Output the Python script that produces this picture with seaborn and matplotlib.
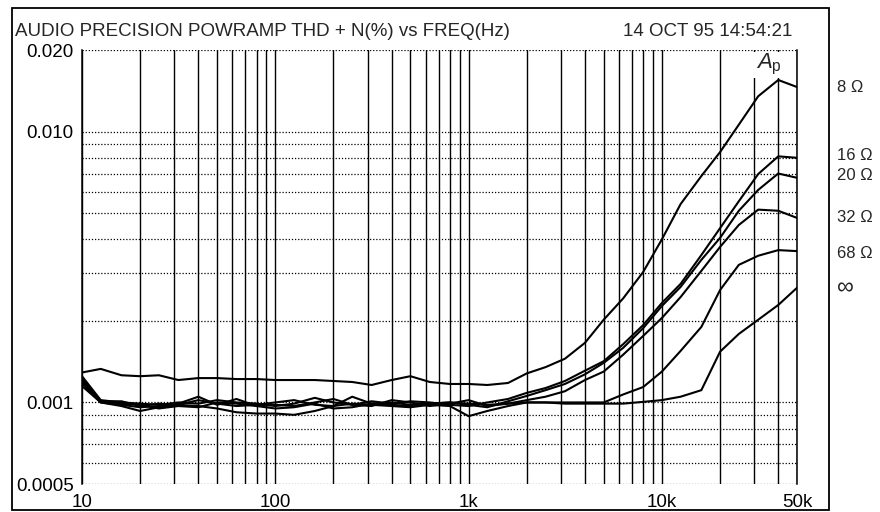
import numpy as np
import pandas as pd
import matplotlib
matplotlib.use("Agg")
import matplotlib.pyplot as plt
from matplotlib.patches import Rectangle
from matplotlib.ticker import FixedLocator, NullFormatter
import seaborn as sns

# ─── Data (THD+N in thousandths of a percent) ─────────────────────────────────
freq = [10, 12.5, 16, 20, 25, 31.5, 40, 50, 63, 80,
        100, 125, 160, 200, 250, 315, 400, 500, 630, 800,
        1000, 1250, 1600, 2000, 2500, 3150, 4000, 5000, 6300, 8000,
        10000, 12500, 16000, 20000, 25000, 31500, 40000, 50000]

thd_8 = [1.29, 1.33, 1.26, 1.25, 1.26, 1.21, 1.23, 1.23, 1.22, 1.22,
         1.21, 1.21, 1.21, 1.20, 1.19, 1.16, 1.21, 1.25, 1.19, 1.17,
         1.17, 1.16, 1.18, 1.28, 1.35, 1.45, 1.66, 2.02, 2.42, 3.03,
         4.0, 5.4, 6.85, 8.4, 10.6, 13.5, 15.5, 14.6]
thd_16 = [1.25, 1.02, 1.00, 0.99, 0.98, 1.00, 0.99, 1.02, 1.00, 0.99,
          0.97, 0.99, 1.04, 1.00, 0.98, 1.01, 0.99, 1.01, 1.00, 0.98,
          0.97, 1.00, 1.03, 1.085, 1.13, 1.20, 1.31, 1.42, 1.64, 1.93,
          2.33, 2.74, 3.5, 4.4, 5.53, 6.97, 8.1, 8.0]
thd_20 = [1.22, 1.01, 1.01, 0.97, 0.99, 0.98, 1.02, 0.99, 0.97, 0.98,
          1.00, 1.02, 0.98, 0.97, 1.05, 0.99, 1.00, 0.98, 0.99, 1.00,
          0.98, 0.96, 1.01, 1.057, 1.11, 1.17, 1.27, 1.40, 1.59, 1.88,
          2.27, 2.67, 3.36, 4.05, 5.1, 6.09, 7.0, 6.75]
thd_32 = [1.18, 1.00, 0.98, 0.96, 0.97, 0.99, 1.05, 0.98, 1.03, 0.97,
          0.98, 0.97, 1.00, 1.03, 0.98, 0.97, 1.02, 1.00, 0.97, 0.99,
          1.02, 0.97, 0.99, 1.02, 1.05, 1.10, 1.21, 1.30, 1.50, 1.76,
          2.05, 2.45, 3.06, 3.75, 4.52, 5.15, 5.1, 4.8]
thd_68 = [1.15, 1.00, 0.97, 0.93, 0.96, 0.98, 0.97, 0.95, 0.92, 0.91,
          0.91, 0.90, 0.93, 0.97, 0.99, 0.98, 0.97, 0.96, 0.98, 0.97,
          0.89, 0.93, 0.97, 1.00, 1.00, 1.00, 1.00, 1.00, 1.07, 1.14,
          1.30, 1.55, 1.90, 2.6, 3.22, 3.48, 3.65, 3.62]
thd_inf = [1.20, 1.01, 0.99, 0.98, 0.95, 0.97, 0.96, 1.00, 0.99, 0.97,
           0.95, 0.96, 0.99, 0.95, 0.96, 0.99, 0.98, 0.97, 0.99, 1.00,
           0.99, 0.98, 0.99, 1.00, 1.00, 0.99, 0.99, 0.99, 0.99, 1.005,
           1.02, 1.05, 1.11, 1.54, 1.79, 2.02, 2.29, 2.65]

loads = ["8 Ω", "16 Ω", "20 Ω", "32 Ω", "68 Ω", "∞"]
series = [thd_8, thd_16, thd_20, thd_32, thd_68, thd_inf]

x_ticks = [10, 100, 1000, 10000, 50000]
x_labels = ["10", "100", "1k", "10k", "50k"]
y_ticks = [0.0005, 0.001, 0.010, 0.020]
y_labels = ["0.0005", "0.001", "0.010", "0.020"]
x_grid = [m * d for d in (10, 100, 1000) for m in range(1, 10)] + [10000, 20000, 30000, 40000, 50000]
y_grid = [m * d for d in (0.0001, 0.001) for m in range(1, 10) if m * d >= 0.0005] + [0.01, 0.02]

df = pd.concat([pd.DataFrame({"freq": freq, "thd": np.array(s) * 1e-3, "load": ld})
                for ld, s in zip(loads, series)], ignore_index=True)

# ─── Style ────────────────────────────────────────────────────────────────────
sns.set_style("white")
plt.rcParams["font.family"] = ["Liberation Sans", "DejaVu Sans"]
plt.rcParams["mathtext.fontset"] = "custom"
plt.rcParams["mathtext.rm"] = "Liberation Sans"
plt.rcParams["mathtext.it"] = "Liberation Sans:italic"
FS = 13.5

W, H = 880, 512
fig = plt.figure(figsize=(W / 100, H / 100), dpi=100)
ax = fig.add_axes([82 / W, 28 / H, 715 / W, 434 / H])

sns.lineplot(data=df, x="freq", y="thd", hue="load", units="load", estimator=None,
             sort=False, palette={ld: "black" for ld in loads}, lw=1.5,
             legend=False, ax=ax, zorder=3)

ax.set_xscale("log")
ax.set_yscale("log")
ax.set_xlim(10, 50000)
ax.set_ylim(0.0005, 0.020)

ax.xaxis.set_major_locator(FixedLocator(x_ticks))
ax.set_xticklabels(x_labels)
ax.xaxis.set_minor_locator(FixedLocator(x_grid))
ax.xaxis.set_minor_formatter(NullFormatter())
ax.yaxis.set_major_locator(FixedLocator(y_ticks))
ax.set_yticklabels(y_labels)
ax.yaxis.set_minor_locator(FixedLocator(y_grid))
ax.yaxis.set_minor_formatter(NullFormatter())
ax.tick_params(which="both", length=0, labelsize=FS, colors="black")
ax.tick_params(axis="x", pad=7)
ax.tick_params(axis="y", pad=6)
ax.set_xlabel("")
ax.set_ylabel("")

ax.set_axisbelow(True)
ax.xaxis.grid(True, which="both", ls="-", color="black", lw=1.0)
ax.yaxis.grid(True, which="both", ls=(0, (1, 1.5)), color="black", lw=0.9)
for side in ["top", "bottom"]:
    ax.spines[side].set_visible(False)
for side in ["left", "right"]:
    ax.spines[side].set_color("black")
    ax.spines[side].set_linewidth(1.1)

# blank patch behind the Ap label (cuts the grid as in the original)
ax.add_patch(Rectangle((28500, 0.0158), 44500 - 28500, 0.0197 - 0.0158,
                       facecolor="white", edgecolor="none", zorder=1))
ax.text(36000, 0.0177, r"$A_\mathrm{p}$", fontsize=16, ha="center", va="center", zorder=4)

# ─── Frame and annotations ────────────────────────────────────────────────────
fig.patches.append(Rectangle((12 / W, 2 / H), 817 / W, 502 / H, transform=fig.transFigure,
                             fill=False, edgecolor="black", lw=1.3))
fig.text(15 / W, 1 - 36 / H, "AUDIO PRECISION POWRAMP THD + N(%) vs FREQ(Hz)",
         fontsize=FS, ha="left", va="baseline")
fig.text(792 / W, 1 - 36 / H, "14 OCT 95 14:54:21", fontsize=FS, ha="right", va="baseline")

label_y = [88, 155, 175, 218, 253, 288]
for ld, yy in zip(loads, label_y):
    fig.text(837 / W, 1 - yy / H, ld, fontsize=(17 if ld == "∞" else 12),
             ha="left", va="center")

fig.savefig("out.png", dpi=100)
